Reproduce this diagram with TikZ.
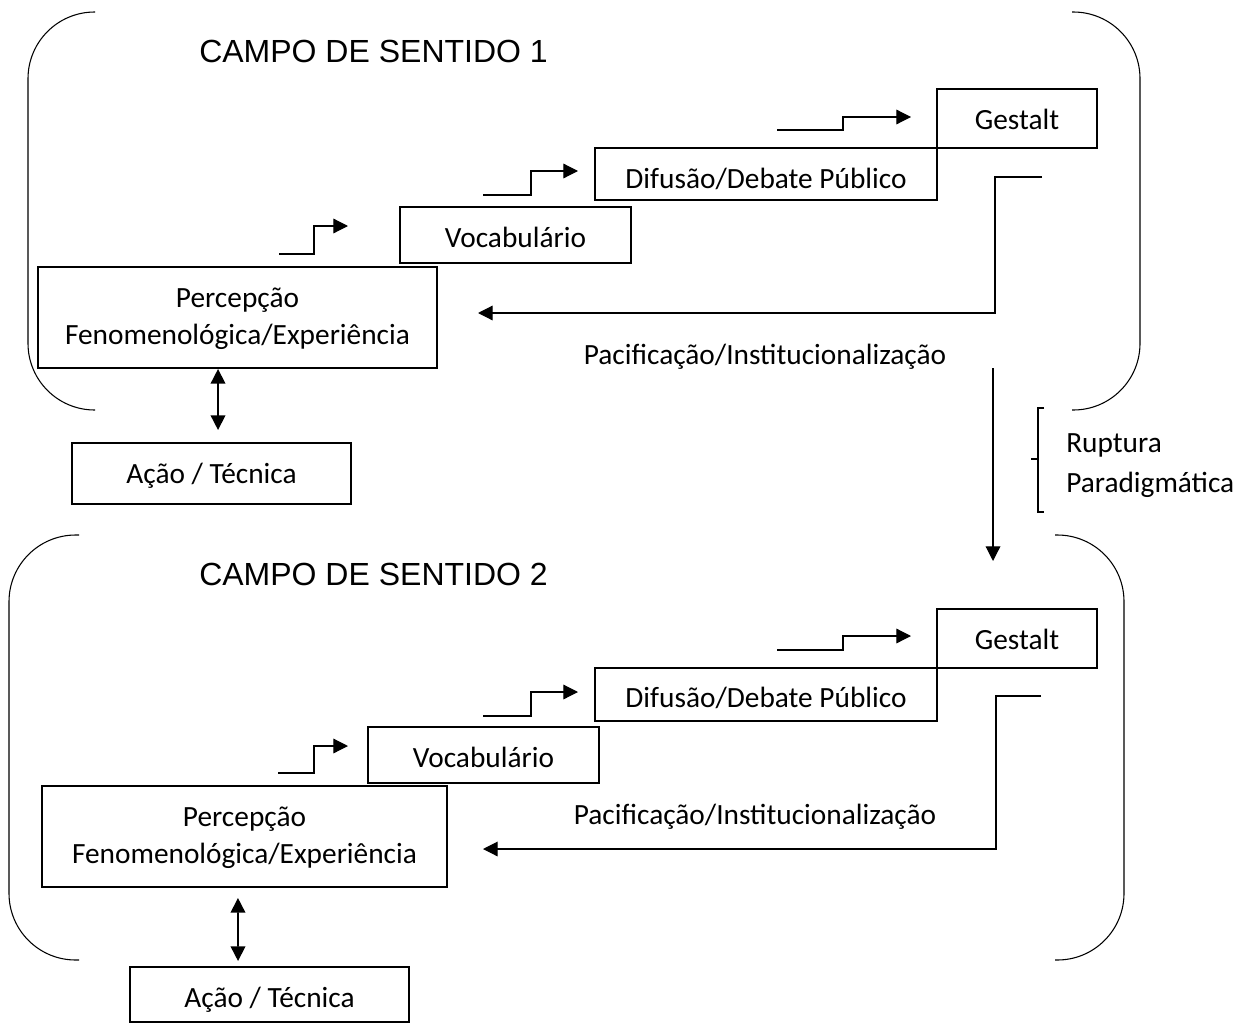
\documentclass[tikz,border=0pt]{standalone}
\usepackage{fontspec}
\setmainfont{Carlito}
\newfontfamily\arialfont{Liberation Sans}
\usetikzlibrary{arrows.meta}

\begin{document}
\begin{tikzpicture}[x=0.75pt,y=-0.75pt,
        caixa/.style={draw=black,line width=1.5pt,inner sep=0pt,align=center,text height=30pt,font=\fontsize{22}{28}\selectfont},
        titulo/.style={anchor=west,inner sep=0pt,font=\arialfont\fontsize{24}{28}\selectfont},
        rotulo/.style={inner sep=0pt,align=left,font=\fontsize{22}{30}\selectfont},
        degrau/.style={line width=0.9pt,-{Triangle[length=11pt,width=11pt]}},
        seta/.style={line width=0.9pt,-{Triangle[length=11pt,width=11pt]}},
        dupla/.style={line width=1.2pt,{Triangle[length=11pt,width=11pt]}-{Triangle[length=11pt,width=11pt]}},
        chave/.style={line width=0.8pt,rounded corners=50pt}]
            \useasboundingbox (0,0) rectangle (1252,1024);
            \draw [chave] (95,12) -- (28,12) -- (28,410) -- (95,410);
            \draw [chave] (1072,12) -- (1140,12) -- (1140,410) -- (1072,410);
            \draw [chave] (79,535) -- (9,535) -- (9,960) -- (79,960);
            \draw [chave] (1055,535) -- (1124,535) -- (1124,960) -- (1055,960);
            \node [titulo] (campo1) at (199,51) {CAMPO DE SENTIDO 1};
            \node [titulo] (campo2) at (199,574) {CAMPO DE SENTIDO 2};
            \node [caixa,minimum width=120pt,text depth=14.25pt] (gestalt1) at (1017,118.5) {Gestalt};
            \node [caixa,minimum width=256.5pt,text depth=9pt] (difusao1) at (766,174) {Difusão/Debate Público};
            \node [caixa,minimum width=173.25pt,text depth=12pt] (vocab1) at (515.5,235) {Vocabulário};
            \node [caixa,minimum width=299.25pt,text height=58pt,text depth=17.75pt] (percep1) at (237.5,317.5) {Percepção\\Fenomenológica/Experiência};
            \node [caixa,minimum width=209.25pt,text depth=15.75pt] (acao1) at (211.5,473.5) {Ação / Técnica};
            \node [caixa,minimum width=120pt,text depth=14.25pt] (gestalt2) at (1017,638.5) {Gestalt};
            \node [caixa,minimum width=256.5pt,text depth=9.75pt] (difusao2) at (766,694) {Difusão/Debate Público};
            \node [caixa,minimum width=173.25pt,text depth=12pt] (vocab2) at (483.5,755) {Vocabulário};
            \node [caixa,minimum width=303.75pt,text height=58pt,text depth=17.75pt] (percep2) at (244.5,836.5) {Percepção\\Fenomenológica/Experiência};
            \node [caixa,minimum width=209.25pt,text depth=11.25pt] (acao2) at (269.5,994.5) {Ação / Técnica};
            \coordinate (d1i) at (279,254);
            \coordinate (d1f) at (348,226);
            \coordinate (d2i) at (483,195);
            \coordinate (d2f) at (578,171);
            \coordinate (d3i) at (777,130);
            \coordinate (d3f) at (911,117);
            \draw [degrau] (d1i) -- ++(35,0) |- (d1f);
            \draw [degrau] (d2i) -- ++(48,0) |- (d2f);
            \draw [degrau] (d3i) -- ++(66,0) |- (d3f);
            \coordinate (d4i) at (278,773);
            \coordinate (d4f) at (348,746);
            \coordinate (d5i) at (483,716);
            \coordinate (d5f) at (578,692);
            \coordinate (d6i) at (777,650);
            \coordinate (d6f) at (911,636);
            \draw [degrau] (d4i) -- ++(36,0) |- (d4f);
            \draw [degrau] (d5i) -- ++(48,0) |- (d5f);
            \draw [degrau] (d6i) -- ++(66,0) |- (d6f);
            \coordinate (v1i) at (1042,177);
            \coordinate (v1f) at (478,313);
            \draw [seta] (v1i) -- ++(-47,0) |- (v1f);
            \node [rotulo] (pacif1) at (765,357) {Pacificação/Institucionalização};
            \coordinate (v2i) at (1041,696);
            \coordinate (v2f) at (483,849);
            \draw [seta] (v2i) -- ++(-45,0) |- (v2f);
            \node [rotulo] (pacif2) at (755,817) {Pacificação/Institucionalização};
            \draw [dupla] ([xshift=-14.6pt]percep1.south) -- ([xshift=4.9pt,yshift=9pt]acao1.north);
            \draw [dupla] ([xshift=-4.9pt,yshift=-7.5pt]percep2.south) -- ([xshift=-23.6pt,yshift=3.75pt]acao2.north);
            \coordinate (r1) at (993,368);
            \coordinate (r2) at (993,561);
            \draw [seta] (r1) -- (r2);
            \draw [line width=0.8pt] (1044,408) -- (1038,408) -- (1038,512) -- (1044,512);
            \draw [line width=0.8pt] (1031,459) -- (1038,459);
            \node [rotulo,anchor=west] (ruptura) at (1066,466) {Ruptura\\Paradigmática};
        \end{tikzpicture}
\end{document}
